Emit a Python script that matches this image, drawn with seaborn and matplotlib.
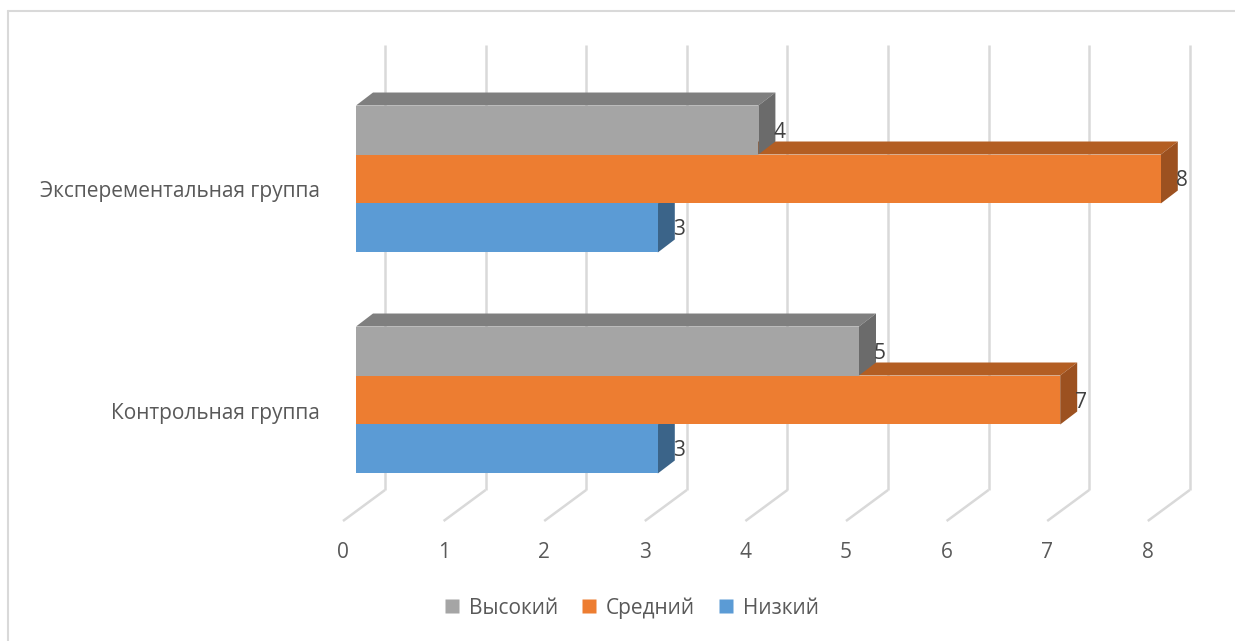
import numpy as np
import pandas as pd
import seaborn as sns
import matplotlib.pyplot as plt
from matplotlib.patches import Polygon
from matplotlib.lines import Line2D

# ---- data ----
groups = ["Эксперементальная группа", "Контрольная группа"]
levels = ["Высокий", "Средний", "Низкий"]
vysokiy = [4, 5]
sredniy = [8, 7]
nizkiy = [3, 3]
x_ticks = [0, 1, 2, 3, 4, 5, 6, 7, 8]

df = pd.DataFrame({
    "group": groups * 3,
    "level": [levels[0]] * 2 + [levels[1]] * 2 + [levels[2]] * 2,
    "value": vysokiy + sredniy + nizkiy,
})

front_colors = {"Высокий": "#a5a5a5", "Средний": "#ed7d31", "Низкий": "#5b9bd5"}
top_colors = {"Высокий": "#7f7f7f", "Средний": "#b35e23", "Низкий": "#44739f"}
side_colors = {"Высокий": "#6b6b6b", "Средний": "#9c5120", "Низкий": "#3b6489"}

sns.set_theme(style="white")
plt.rcParams["font.family"] = ["Open Sans", "DejaVu Sans"]
FS = 15

W, H, DPI = 1235, 641, 100
fig = plt.figure(figsize=(W / DPI, H / DPI), dpi=DPI)
ax = fig.add_axes([0, 0, 1, 1])

sns.barplot(data=df, y="group", x="value", hue="level", order=groups,
            hue_order=levels, palette=front_colors, orient="h",
            width=0.665, dodge=True, legend=False, ax=ax,
            saturation=1, linewidth=0, errorbar=None)

# pixel-linear mapping: value 0 on bar front plane at x=356 px, 100.6 px per unit;
# first group centre at y=179 px, 221 px between groups
PX_UNIT = 100.6
PY_UNIT = 221.0
x0_px, y0_px = 356.0, 179.0
ax.set_xlim(-x0_px / PX_UNIT, (W - x0_px) / PX_UNIT)
ax.set_ylim((H - y0_px) / PY_UNIT, -y0_px / PY_UNIT)
ax.axis("off")

def px_x(p):
    return (p - x0_px) / PX_UNIT

def px_y(p):
    return (p - y0_px) / PY_UNIT

# depth of bars
DX = 17 / PX_UNIT
DY = -13 / PY_UNIT

# back wall gridlines and floor lines
grid_c = "#d9d9d9"
for v in x_ticks:
    xb = px_x(385) + v
    xf = px_x(343) + v
    ax.plot([xb, xb], [px_y(45), px_y(490)], color=grid_c, lw=1.8, zorder=1,
            solid_capstyle="butt")
    ax.plot([xb, xf], [px_y(490), px_y(521)], color=grid_c, lw=1.8, zorder=1,
            solid_capstyle="butt")
    ax.text(xf, px_y(552), str(v), ha="center", va="center", fontsize=FS,
            color="#595959")

# 3D faces for each bar
level_z = {"Высокий": 5, "Средний": 4, "Низкий": 3}
for k, cont in enumerate(ax.containers):
    lvl = levels[k]
    z = level_z[lvl]
    for bar in cont:
        x = bar.get_x()
        w = bar.get_width()
        y = bar.get_y()
        h = bar.get_height()
        ytop, ybot = y, y + h  # smaller y is drawn higher (inverted axis)
        bar.set_zorder(z + 0.3)
        top = Polygon([[x, ytop], [x + w, ytop], [x + w + DX, ytop + DY], [x + DX, ytop + DY]],
                      closed=True, facecolor=top_colors[lvl], edgecolor="none", zorder=z + 0.1)
        side = Polygon([[x + w, ytop], [x + w + DX, ytop + DY], [x + w + DX, ybot + DY], [x + w, ybot]],
                       closed=True, facecolor=side_colors[lvl], edgecolor="none", zorder=z + 0.2)
        ax.add_patch(top)
        ax.add_patch(side)
        ax.text(x + w + 15 / PX_UNIT, y + h / 2 + 2 / PY_UNIT, f"{w:g}", ha="left", va="center",
                fontsize=FS, color="#404040", zorder=10)

# category labels
for i, g in enumerate(groups):
    ax.text(px_x(320), i + 13 / PY_UNIT, g, ha="right", va="center", fontsize=FS,
            color="#595959")

# legend
handles = [Line2D([0], [0], marker="s", linestyle="none", markersize=9.5,
                  markerfacecolor=front_colors[l], markeredgecolor="none") for l in levels]
fig.legend(handles, levels, loc="center", bbox_to_anchor=(631 / W, 1 - 608 / H),
           ncol=3, frameon=False, fontsize=FS, labelcolor="#595959",
           handletextpad=0.35, columnspacing=1.05, handlelength=0.9)

# chart area frame
fig.add_artist(Line2D([8 / W, 1], [1 - 11 / H, 1 - 11 / H], color="#d9d9d9", lw=1.5,
                      transform=fig.transFigure))
fig.add_artist(Line2D([8 / W, 8 / W], [1 - 11 / H, 0], color="#d9d9d9", lw=1.5,
                      transform=fig.transFigure))

fig.savefig("out.png", dpi=DPI)
